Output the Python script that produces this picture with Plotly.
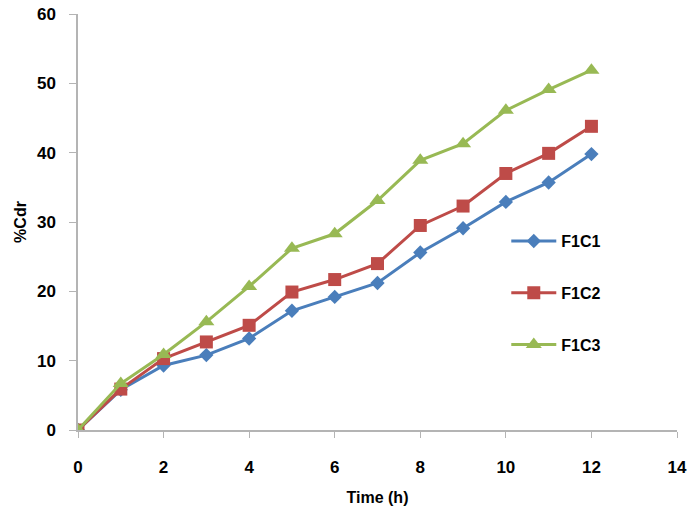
import plotly.graph_objects as go

# data
time_h = [0, 1, 2, 3, 4, 5, 6, 7, 8, 9, 10, 11, 12]
f1c1 = [0, 5.8, 9.3, 10.8, 13.2, 17.2, 19.2, 21.2, 25.6, 29.1, 32.9, 35.7, 39.8]
f1c2 = [0, 5.9, 10.3, 12.7, 15.1, 19.9, 21.7, 24.0, 29.5, 32.3, 37.0, 39.9, 43.8]
f1c3 = [0, 6.7, 10.9, 15.6, 20.7, 26.2, 28.3, 33.1, 38.9, 41.3, 46.1, 49.1, 51.9]

series = [
    ("F1C1", f1c1, "#4a7ebb", "diamond", 11),
    ("F1C2", f1c2, "#be4b48", "square", 13),
    ("F1C3", f1c3, "#98b954", "triangle-up", 14),
]

fig = go.Figure()
for name, vals, color, symbol, size in series:
    fig.add_trace(go.Scatter(
        x=time_h, y=vals, name=name, legendgroup=name,
        mode="lines+markers",
        line=dict(color=color, width=3),
        marker=dict(symbol=symbol, size=size, color=color),
    ))

font_b = "Liberation Sans"
axis_grey = "#b4b4b4"
fig.update_layout(
    width=690, height=516,
    margin=dict(l=78, r=13, t=14, b=86),
    paper_bgcolor="white", plot_bgcolor="white",
    font=dict(family=font_b, size=16, color="black"),
    legend=dict(x=0.715, y=0.495, xanchor="left", yanchor="top",
                bgcolor="rgba(0,0,0,0)",
                tracegroupgap=28, font=dict(size=16, family=font_b, weight="bold"),
                itemwidth=45),
    showlegend=True,
)
fig.update_xaxes(
    range=[0, 14], dtick=2, showgrid=False, zeroline=False, automargin=False,
    showline=True, linecolor=axis_grey, linewidth=1.5,
    ticks="outside", ticklen=6, tickcolor=axis_grey,
    ticklabelstandoff=15,
    tickfont=dict(weight="bold", size=17),
    title=dict(text="Time (h)", font=dict(weight="bold", size=16), standoff=16),
)
fig.update_yaxes(
    range=[0, 60], dtick=10, showgrid=False, zeroline=False, automargin=False,
    showline=True, linecolor=axis_grey, linewidth=1.5,
    ticks="outside", ticklen=7, tickcolor=axis_grey,
    ticklabelstandoff=10,
    tickfont=dict(weight="bold", size=17),
    title=dict(text="%Cdr", font=dict(weight="bold", size=16), standoff=6),
)

# drop the browser's default 8px body margin so the figure fills the window
fig.write_html("out.html", config={"displayModeBar": False},
               post_script="document.body.style.margin='0';document.body.style.overflow='hidden';")
